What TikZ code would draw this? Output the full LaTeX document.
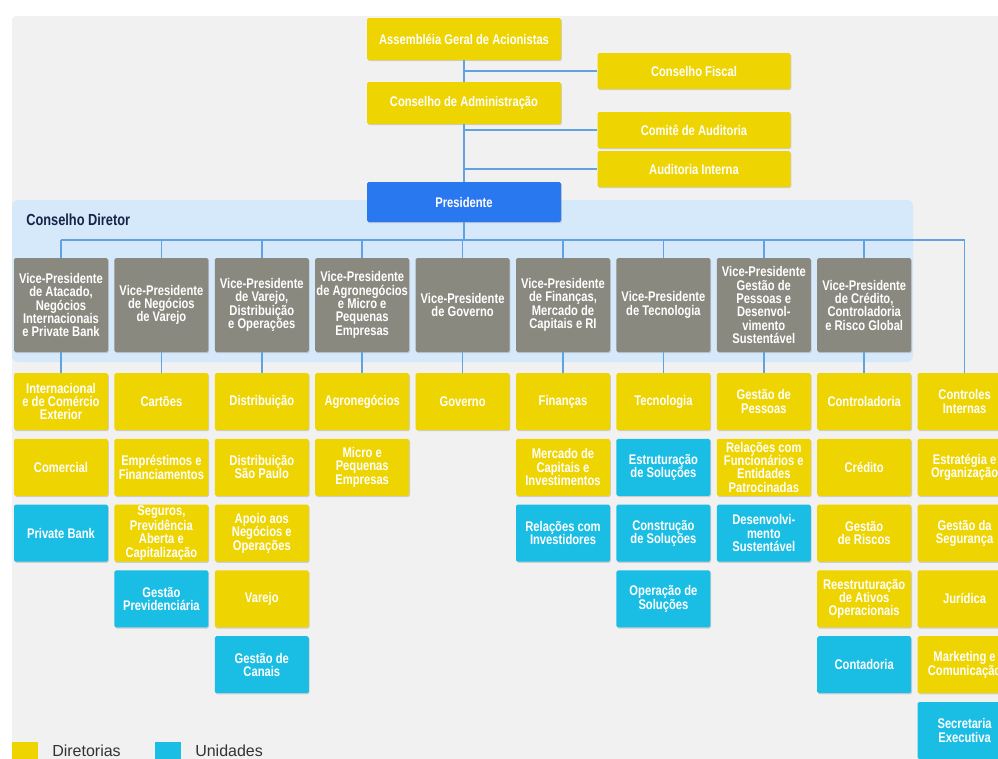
\documentclass[tikz,border=0pt]{standalone}
\usepackage{fontspec}
\setmainfont{Liberation Sans}
\newfontfamily\condfont{Liberation Sans}[FakeStretch=0.8]
\usetikzlibrary{shadows}

\definecolor{panelgray}{RGB}{241,241,241}
\definecolor{bandblue}{RGB}{214,233,250}
\definecolor{diryellow}{RGB}{238,212,0}
\definecolor{unitblue}{RGB}{26,190,228}
\definecolor{vpgray}{RGB}{138,137,128}
\definecolor{presblue}{RGB}{42,120,240}
\definecolor{linkblue}{RGB}{96,162,226}
\definecolor{navy}{RGB}{22,36,72}

\begin{document}
\begin{tikzpicture}[x=0.75pt, y=-0.75pt,
	box/.style={rectangle, rounded corners=1.2pt, inner sep=0pt, align=center, text=white,
		font=\condfont\bfseries\fontsize{10.5}{10}\selectfont,
		drop shadow={shadow xshift=0.6pt, shadow yshift=-0.9pt, opacity=0.3}},
	dirbox/.style={box, fill=diryellow, minimum width=70.5pt, minimum height=42.75pt},
	unitbox/.style={box, fill=unitblue, minimum width=70.5pt, minimum height=42.75pt},
	vpbox/.style={box, fill=vpgray, minimum width=70.5pt, minimum height=70.5pt},
	boardbox/.style={box, fill=diryellow, minimum width=145.5pt, minimum height=31.5pt},
	auditbox/.style={box, fill=diryellow, minimum width=144.75pt, minimum height=27pt},
	linkline/.style={draw=linkblue, line width=1.2pt},
	legendtext/.style={anchor=base west, inner sep=0pt, text=black!80, font=\fontsize{12}{14}\selectfont}]

\useasboundingbox (0,0) rectangle (998,758);
\clip (0,0) rectangle (998,758);
\fill[white] (0,0) rectangle (998,758);
\fill[panelgray, rounded corners=3pt,
	drop shadow={shadow xshift=0.5pt, shadow yshift=-0.5pt, opacity=0.15}]
	(12,16) rectangle (1010,790);

% faixa do conselho diretor
\fill[bandblue, rounded corners=4pt] (12,200) rectangle (913,362);

\node[boardbox] (asm) at (464,39) {Assembléia Geral de Acionistas};
\node[auditbox] (fiscal) at (694,71) {Conselho Fiscal};
\node[boardbox] (cadm) at (464,103) {Conselho de Administração};
\node[auditbox] (comite) at (694,130) {Comitê de Auditoria};
\node[auditbox] (audint) at (694,169) {Auditoria Interna};
\node[boardbox, fill=presblue, minimum height=30pt] (pres) at (464,202) {Presidente};
\node[anchor=west, inner sep=0pt, text=navy,
	font=\condfont\bfseries\fontsize{12}{13}\selectfont] (cdir) at (26,220) {Conselho Diretor};

% vice-presidencias
\node[vpbox] (vpatac) at (61,305) {Vice-Presidente\\de Atacado,\\Negócios\\Internacionais\\e Private Bank};
\node[vpbox] (vpnegv) at (161.4,305) {Vice-Presidente\\de Negócios\\de Varejo};
\node[vpbox] (vpvar) at (261.8,305) {Vice-Presidente\\de Varejo,\\Distribuição\\e Operações};
\node[vpbox] (vpagro) at (362.2,305) {Vice-Presidente\\de Agronegócios\\e Micro e\\Pequenas\\Empresas};
\node[vpbox] (vpgov) at (462.6,305) {Vice-Presidente\\de Governo};
\node[vpbox] (vpfin) at (563,305) {Vice-Presidente\\de Finanças,\\Mercado de\\Capitais e RI};
\node[vpbox] (vptec) at (663.4,305) {Vice-Presidente\\de Tecnologia};
\node[vpbox] (vppes) at (763.8,305) {Vice-Presidente\\Gestão de\\Pessoas e\\Desenvol-\\vimento\\Sustentável};
\node[vpbox] (vpcred) at (864.2,305) {Vice-Presidente\\de Crédito,\\Controladoria\\e Risco Global};

% diretorias e unidades
\node[dirbox] (intl) at (61,401.5) {Internacional\\e de Comércio\\Exterior};
\node[dirbox] (comerc) at (61,467.3) {Comercial};
\node[unitbox] (privb) at (61,533.1) {Private Bank};

\node[dirbox] (cartoes) at (161.4,401.5) {Cartões};
\node[dirbox] (emprest) at (161.4,467.3) {Empréstimos e\\Financiamentos};
\node[dirbox] (seguros) at (161.4,533.1) {Seguros,\\Previdência\\Aberta e\\Capitalização};
\node[unitbox] (gprev) at (161.4,598.9) {Gestão\\Previdenciária};

\node[dirbox] (distr) at (261.8,401.5) {Distribuição};
\node[dirbox] (distsp) at (261.8,467.3) {Distribuição\\São Paulo};
\node[dirbox] (apoio) at (261.8,533.1) {Apoio aos\\Negócios e\\Operações};
\node[dirbox] (varejo) at (261.8,598.9) {Varejo};
\node[unitbox] (gcanais) at (261.8,664.7) {Gestão de\\Canais};

\node[dirbox] (agro) at (362.2,401.5) {Agronegócios};
\node[dirbox] (micro) at (362.2,467.3) {Micro e\\Pequenas\\Empresas};

\node[dirbox] (gov) at (462.6,401.5) {Governo};

\node[dirbox] (finan) at (563,401.5) {Finanças};
\node[dirbox] (mercap) at (563,467.3) {Mercado de\\Capitais e\\Investimentos};
\node[unitbox] (relinv) at (563,533.1) {Relações com\\Investidores};

\node[dirbox] (tecno) at (663.4,401.5) {Tecnologia};
\node[unitbox] (estsol) at (663.4,467.3) {Estruturação\\de Soluções};
\node[unitbox] (consol) at (663.4,533.1) {Construção\\de Soluções};
\node[unitbox] (opsol) at (663.4,598.9) {Operação de\\Soluções};

\node[dirbox] (gpes) at (763.8,401.5) {Gestão de\\Pessoas};
\node[dirbox] (relfun) at (763.8,467.3) {Relações com\\Funcionários e\\Entidades\\Patrocinadas};
\node[unitbox] (dsust) at (763.8,533.1) {Desenvolvi-\\mento\\Sustentável};

\node[dirbox] (control) at (864.2,401.5) {Controladoria};
\node[dirbox] (credito) at (864.2,467.3) {Crédito};
\node[dirbox] (griscos) at (864.2,533.1) {Gestão\\de Riscos};
\node[dirbox] (reestr) at (864.2,598.9) {Reestruturação\\de Ativos\\Operacionais};
\node[unitbox] (contad) at (864.2,664.7) {Contadoria};

\node[dirbox] (ctrlint) at (964.6,401.5) {Controles\\Internas};
\node[dirbox] (estorg) at (964.6,467.3) {Estratégia e\\Organização};
\node[dirbox] (gseg) at (964.6,533.1) {Gestão da\\Segurança};
\node[dirbox] (jurid) at (964.6,598.9) {Jurídica};
\node[dirbox] (mkt) at (964.6,664.7) {Marketing e\\Comunicação};
\node[unitbox] (secex) at (964.6,730.5) {Secretaria\\Executiva};

% ligacoes
\draw[linkline] (asm.south) -- (cadm.north);
\draw[linkline] (cadm.south) -- (pres.north);
\draw[linkline] (asm.south |- fiscal.west) -- (fiscal.west);
\draw[linkline] (cadm.south |- comite.west) -- (comite.west);
\draw[linkline] (cadm.south |- audint.west) -- (audint.west);

\coordinate (bus) at (464,240);
\draw[linkline] (pres.south) -- (bus);
\draw[linkline, line width=1.6pt] (vpatac.north |- bus) -- (ctrlint.north |- bus);
\foreach \vp/\first in {vpatac/intl, vpnegv/cartoes, vpvar/distr, vpagro/agro, vpgov/gov,
		vpfin/finan, vptec/tecno, vppes/gpes, vpcred/control} {
	\draw[linkline] (\vp.north |- bus) -- (\vp.north);
	\draw[linkline] (\vp.south) -- (\first.north);
}
\draw[linkline] (ctrlint.north |- bus) -- (ctrlint.north);

% legenda
\fill[diryellow] (12,742) rectangle (38,772);
\node[legendtext] (ldir) at (52,756) {Diretorias};
\fill[unitblue] (155,742) rectangle (181,772);
\node[legendtext] (luni) at (195,756) {Unidades};
\end{tikzpicture}
\end{document}
